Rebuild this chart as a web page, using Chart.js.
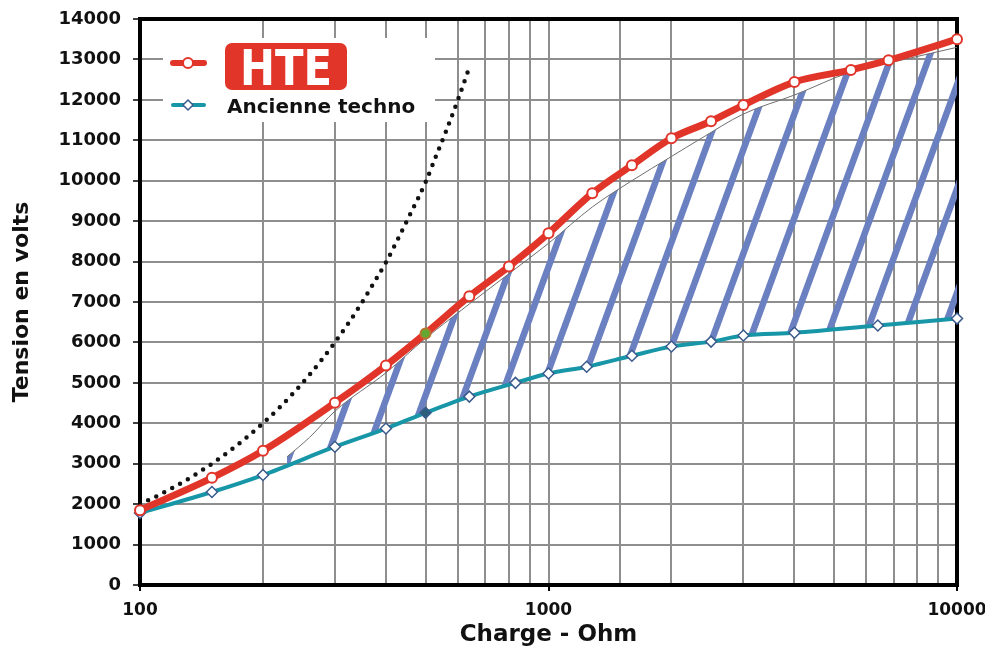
<!DOCTYPE html>
<html>
<head>
<meta charset="utf-8">
<script src="https://cdn.jsdelivr.net/npm/chart.js@4/dist/chart.umd.min.js"></script>
<style>
html,body{margin:0;padding:0;background:#ffffff;}
canvas{display:block;}
</style>
</head>
<body>
<canvas id="c" width="985" height="649"></canvas>
<script>
// ---- Data ----
const hteCharge  = [100, 150, 200, 300, 400, 500, 640, 800, 1000, 1280, 1600, 2000, 2500, 3000, 4000, 5500, 6800, 10000];
const hteVoltage = [1850, 2650, 3320, 4510, 5430, 6220, 7140, 7880, 8700, 9690, 10380, 11050, 11470, 11870, 12440, 12740, 12980, 13500];

const oldCharge  = [100, 150, 200, 300, 400, 500, 640, 830, 1000, 1240, 1600, 2000, 2500, 3000, 4000, 6400, 10000];
const oldVoltage = [1780, 2300, 2720, 3420, 3870, 4260, 4660, 5000, 5230, 5400, 5670, 5900, 6020, 6170, 6240, 6420, 6590];

// upper edge of the hatched gain area (thin grey line under the HTE curve)
const gainCharge  = [229, 260, 300, 400, 500, 640, 800, 1000, 1280, 1600, 2000, 2350, 3000, 4000, 5500, 7000, 10000];
const gainVoltage = [3170, 3650, 4300, 5250, 6100, 6950, 7700, 8450, 9350, 10000, 10600, 11030, 11650, 12120, 12690, 12940, 13300];

// black dotted limit curve
const limitCharge  = [100, 110, 120, 130, 140, 150, 165, 180, 200, 220, 240, 260, 280, 300, 325, 350, 375, 400, 430, 460, 500, 530, 560, 600, 640];
const limitVoltage = [2000, 2200, 2400, 2600, 2800, 3000, 3300, 3600, 4000, 4400, 4800, 5200, 5600, 6000, 6500, 7000, 7500, 7980, 8600, 9200, 9960, 10600, 11200, 12000, 12800];

const xLabelValues = [100, 1000, 10000];
const yMin = 0, yMax = 14000, yStep = 1000;

const seriesNames = ['HTE', 'Ancienne techno'];
const xTitle = 'Charge - Ohm';
const yTitle = 'Tension en volts';

// ---- Styles ----
const FONT = '"DejaVu Sans", "Liberation Sans", sans-serif';
const RED = '#e2352a';
const TEAL = '#1796a8';
const DIAMOND_EDGE = '#3a5a8c';
const HATCH = '#6b80c0';
const GRID = '#8e8e8e';

function toXY(xs, ys) { return xs.map((x, i) => ({x: x, y: ys[i]})); }

const canvas = document.getElementById('c');
const ctx0 = canvas.getContext('2d');

function makeHatch() {
  const w = 38, h = 104;
  const c = document.createElement('canvas');
  c.width = w; c.height = h;
  const g = c.getContext('2d');
  g.strokeStyle = HATCH;
  g.lineWidth = 6.5;
  for (const dx of [-w, 0, w]) {
    g.beginPath();
    g.moveTo(dx - w, 2 * h);
    g.lineTo(dx + 2 * w, -h);
    g.stroke();
  }
  return ctx0.createPattern(c, 'repeat');
}

const framePlugin = {
  id: 'frame',
  beforeDatasetsDraw(chart) {
    const {ctx, chartArea: a} = chart;
    ctx.save();
    ctx.strokeStyle = '#000';
    ctx.lineWidth = 4;
    ctx.beginPath();
    ctx.moveTo(a.left - 2, a.top);
    ctx.lineTo(a.right, a.top);
    ctx.lineTo(a.right, a.bottom + 2);
    ctx.stroke();
    ctx.restore();
  }
};

const legendPlugin = {
  id: 'boxLegend',
  afterDatasetsDraw(chart) {
    const {ctx, chartArea: a} = chart;
    const L = a.left, T = a.top;
    ctx.save();
    ctx.fillStyle = '#ffffff';
    ctx.fillRect(L + 23, T + 19, 272, 84);

    // HTE sample
    const y1 = T + 44;
    ctx.strokeStyle = RED; ctx.lineWidth = 6; ctx.lineCap = 'round';
    ctx.beginPath(); ctx.moveTo(L + 33, y1); ctx.lineTo(L + 64, y1); ctx.stroke();
    ctx.fillStyle = '#fff'; ctx.lineWidth = 2;
    ctx.beginPath(); ctx.arc(L + 48, y1, 5, 0, Math.PI * 2); ctx.fill(); ctx.stroke();

    // HTE badge
    const bx = L + 85, by = T + 24, bw = 122, bh = 47;
    ctx.fillStyle = RED;
    ctx.beginPath();
    ctx.roundRect(bx, by, bw, bh, 7);
    ctx.fill();
    ctx.font = 'bold 50px ' + FONT;
    const tw = ctx.measureText(seriesNames[0]).width;
    ctx.save();
    ctx.translate(bx + bw / 2, by + 42);
    ctx.scale(92 / tw, 1);
    ctx.fillStyle = '#ffffff';
    ctx.textAlign = 'center';
    ctx.textBaseline = 'alphabetic';
    ctx.fillText(seriesNames[0], 0, 0);
    ctx.restore();

    // Ancienne techno sample
    const y2 = T + 86;
    ctx.strokeStyle = TEAL; ctx.lineWidth = 4; ctx.lineCap = 'round';
    ctx.beginPath(); ctx.moveTo(L + 33, y2); ctx.lineTo(L + 64, y2); ctx.stroke();
    ctx.fillStyle = '#fff'; ctx.strokeStyle = DIAMOND_EDGE; ctx.lineWidth = 1.5;
    ctx.beginPath();
    ctx.moveTo(L + 48, y2 - 5); ctx.lineTo(L + 53, y2); ctx.lineTo(L + 48, y2 + 5); ctx.lineTo(L + 43, y2);
    ctx.closePath(); ctx.fill(); ctx.stroke();

    ctx.fillStyle = '#111';
    ctx.font = 'bold 20px ' + FONT;
    ctx.textAlign = 'left';
    ctx.textBaseline = 'alphabetic';
    ctx.fillText(seriesNames[1], L + 87, T + 94);
    ctx.restore();
  }
};

new Chart(canvas, {
  type: 'line',
  data: {
    datasets: [
      {
        label: seriesNames[0],
        data: toXY(hteCharge, hteVoltage),
        borderColor: RED,
        borderWidth: 7,
        cubicInterpolationMode: 'monotone',
        pointRadius: 5,
        pointBorderWidth: 2,
        pointBorderColor: (c) => (c.raw && c.raw.x === 500) ? '#b8752e' : RED,
        pointBackgroundColor: (c) => (c.raw && c.raw.x === 500) ? '#63a832' : '#ffffff',
        fill: false,
        clip: false
      },
      {
        label: seriesNames[1],
        data: toXY(oldCharge, oldVoltage),
        borderColor: TEAL,
        borderWidth: 4,
        cubicInterpolationMode: 'monotone',
        pointStyle: 'rectRot',
        pointRadius: 5.5,
        pointBorderWidth: 1.5,
        pointBorderColor: DIAMOND_EDGE,
        pointBackgroundColor: (c) => (c.raw && c.raw.x === 500) ? '#2c5f7c' : '#ffffff',
        fill: false,
        clip: false
      },
      {
        label: 'limite',
        data: toXY(limitCharge, limitVoltage),
        borderColor: '#111111',
        borderWidth: 4.5,
        borderDash: [0, 9],
        borderCapStyle: 'round',
        cubicInterpolationMode: 'monotone',
        pointRadius: 0,
        fill: false
      },
      {
        label: 'gain',
        data: toXY(gainCharge, gainVoltage),
        borderColor: '#6f6f6f',
        borderWidth: 1,
        cubicInterpolationMode: 'monotone',
        pointRadius: 0,
        backgroundColor: makeHatch(),
        fill: {target: 1}
      }
    ]
  },
  options: {
    responsive: false,
    animation: false,
    devicePixelRatio: 1,
    layout: {padding: {top: 19, right: 28, left: 0, bottom: 0}},
    plugins: {
      legend: {display: false},
      tooltip: {enabled: false},
      filler: {propagate: false}
    },
    scales: {
      x: {
        type: 'logarithmic',
        min: 100,
        max: 10000,
        afterFit(s) { s.height = 64; s.paddingLeft = 0; s.paddingRight = 0; },
        border: {color: '#000', width: 4},
        grid: {
          color: GRID,
          lineWidth: 2,
          tickLength: 6,
          tickWidth: 2,
          tickColor: (c) => (c.tick && xLabelValues.includes(c.tick.value)) ? '#000' : 'rgba(0,0,0,0)'
        },
        ticks: {
          autoSkip: false,
          maxRotation: 0,
          padding: 9,
          color: '#111',
          font: {family: FONT, size: 17, weight: 'bold'},
          callback: (v) => xLabelValues.includes(v) ? String(v) : ''
        },
        title: {
          display: true,
          text: xTitle,
          color: '#111',
          font: {family: FONT, size: 23, weight: 'bold'},
          padding: {top: 0, bottom: 0}
        }
      },
      y: {
        type: 'linear',
        min: yMin,
        max: yMax,
        afterFit(s) { s.width = 140; s.paddingTop = 0; s.paddingBottom = 0; },
        border: {color: '#000', width: 4},
        grid: {
          color: GRID,
          lineWidth: 2,
          tickLength: 7,
          tickWidth: 1.5,
          tickColor: '#000'
        },
        ticks: {
          stepSize: yStep,
          padding: 12,
          color: '#111',
          font: {family: FONT, size: 18, weight: 'bold'},
          callback: (v) => String(v)
        },
        title: {
          display: true,
          text: yTitle,
          color: '#111',
          font: {family: FONT, size: 22, weight: 'bold'},
          padding: {top: 9, bottom: 0}
        }
      }
    }
  },
  plugins: [framePlugin, legendPlugin]
});
</script>
</body>
</html>
